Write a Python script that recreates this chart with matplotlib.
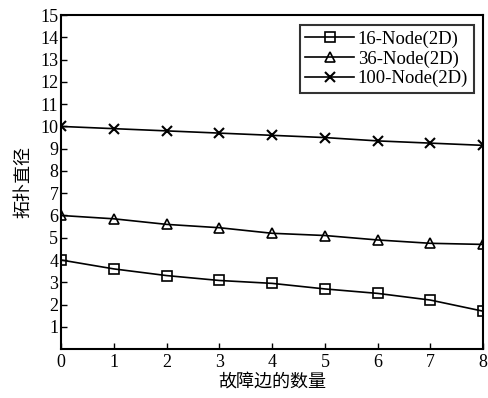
import matplotlib
matplotlib.use("Agg")
import matplotlib.pyplot as plt

# data
faults = [0, 1, 2, 3, 4, 5, 6, 7, 8]
node16 = [4.0, 3.6, 3.3, 3.08, 2.95, 2.7, 2.5, 2.2, 1.7]
node36 = [6.0, 5.85, 5.6, 5.45, 5.2, 5.1, 4.9, 4.75, 4.7]
node100 = [10.0, 9.9, 9.8, 9.7, 9.6, 9.5, 9.35, 9.25, 9.15]
labels = ["16-Node(2D)", "36-Node(2D)", "100-Node(2D)"]

plt.rcParams['font.family'] = ['Liberation Serif', 'Noto Sans CJK SC']

fig = plt.figure(figsize=(4.89, 3.98), dpi=100)
ax = fig.add_axes([0.125, 0.123, 0.863, 0.839])

ax.plot(faults, node16, color='black', lw=1.2, marker='s', ms=6.5, mfc='none', mew=1.2, label=labels[0])
ax.plot(faults, node36, color='black', lw=1.2, marker='^', ms=6.5, mfc='none', mew=1.2, label=labels[1])
ax.plot(faults, node100, color='black', lw=1.2, marker='x', ms=6.5, mew=1.5, label=labels[2])

ax.set_xlim(0, 8)
ax.set_ylim(0, 15)
ax.set_xticks(range(0, 9))
ax.set_yticks(range(1, 16))
ax.tick_params(direction='in', labelsize=13, length=4, width=1)
ax.tick_params(axis='y', pad=2)
for s in ax.spines.values():
    s.set_linewidth(1.5)

ax.set_xlabel("故障边的数量", fontsize=13, labelpad=2)
ax.set_ylabel("拓扑直径", fontsize=13, labelpad=6)

leg = ax.legend(loc='upper right', fontsize=13.5, frameon=True, fancybox=False,
                edgecolor='black', borderpad=0.3, labelspacing=0.12,
                handlelength=2.6, handletextpad=0.2, bbox_to_anchor=(1.0, 0.998))
leg.get_frame().set_linewidth(1.5)

fig.savefig("out.png", dpi=100)
